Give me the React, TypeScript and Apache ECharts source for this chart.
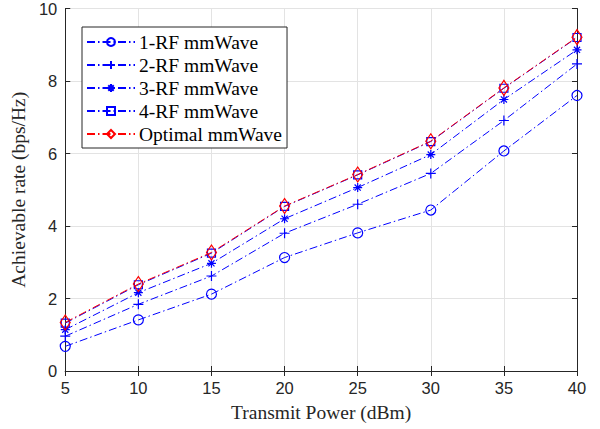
import React, { useEffect, useRef } from "react";
import * as echarts from "echarts";

const powers = [5, 10, 15, 20, 25, 30, 35, 40];
const rf1 = [0.68, 1.41, 2.12, 3.13, 3.81, 4.44, 6.07, 7.6];
const rf2 = [0.96, 1.84, 2.62, 3.8, 4.6, 5.45, 6.91, 8.47];
const rf3 = [1.14, 2.16, 2.97, 4.2, 5.06, 5.97, 7.49, 8.86];
const rf4 = [1.32, 2.38, 3.25, 4.54, 5.41, 6.33, 7.8, 9.2];
const optimal = [1.34, 2.4, 3.27, 4.55, 5.42, 6.34, 7.81, 9.21];
const names = ["1-RF mmWave", "2-RF mmWave", "3-RF mmWave", "4-RF mmWave", "Optimal mmWave"];
const xTicks = [5, 10, 15, 20, 25, 30, 35, 40];
const yTicks = [0, 2, 4, 6, 8, 10];

const BLUE = "#0000ff";
const RED = "#ff0000";
const AX = "#262626";
const SERIF = "Liberation Serif";
const SANS = "Liberation Sans";

export default function App() {
  const ref = useRef<HTMLDivElement>(null);
  useEffect(() => {
    const chart = echarts.init(ref.current!, null, { renderer: "svg" });
    const pair = (ys: number[]) => powers.map((x, i) => [x, ys[i]]);
    const mk = (name: string, ys: number[], color: string, symbol: string, size: any) => ({
      name,
      type: "line",
      data: pair(ys),
      symbol,
      symbolSize: size,
      showAllSymbol: true,
      lineStyle: { color, width: 1, type: [8, 3, 1.5, 3] },
      itemStyle: { color: "none", borderColor: color, borderWidth: 1.2 },
      emphasis: { disabled: true },
      z: 3,
    });
    const axisCommon = {
      axisLine: { show: true, lineStyle: { color: AX, width: 1 } },
      axisTick: { show: true, inside: true, length: 5, lineStyle: { color: AX } },
    };
    chart.setOption({
      animation: false,
      grid: { left: 63, right: 23, top: 7, bottom: 58 },
      legend: {
        left: 82,
        top: 27,
        orient: "vertical",
        data: names,
        backgroundColor: "#fff",
        borderColor: AX,
        borderWidth: 1,
        padding: [5, 5, 4, 4],
        itemWidth: 48,
        itemHeight: 10,
        itemGap: 3,
        textStyle: { fontFamily: SERIF, fontSize: 19.5, color: "#000", padding: [0, 0, 0, -1] },
        selectedMode: false,
      },
      xAxis: [
        {
          type: "value",
          min: 5,
          max: 40,
          interval: 5,
          name: "Transmit Power (dBm)",
          nameLocation: "middle",
          nameGap: 31,
          nameTextStyle: { fontFamily: SERIF, fontSize: 19.5, color: AX },
          axisLabel: { fontFamily: SANS, fontSize: 16.5, color: AX, margin: 8,
            formatter: (v: number) => (xTicks.includes(v) ? String(v) : "") },
          splitLine: { show: true, lineStyle: { color: "#e3e3e3", width: 1 } },
          ...axisCommon,
        },
        {
          type: "value",
          position: "top",
          min: 5,
          max: 40,
          interval: 5,
          axisLabel: { show: false },
          splitLine: { show: false },
          ...axisCommon,
        },
      ],
      yAxis: [
        {
          type: "value",
          min: 0,
          max: 10,
          interval: 2,
          name: "Achievable rate (bps/Hz)",
          nameLocation: "middle",
          nameGap: 27,
          nameTextStyle: { fontFamily: SERIF, fontSize: 19.5, color: AX },
          axisLabel: { fontFamily: SANS, fontSize: 16.5, color: AX, margin: 8,
            formatter: (v: number) => (yTicks.includes(v) ? String(v) : "") },
          splitLine: { show: true, lineStyle: { color: "#e3e3e3", width: 1 } },
          ...axisCommon,
        },
        {
          type: "value",
          position: "right",
          min: 0,
          max: 10,
          interval: 2,
          axisLabel: { show: false },
          splitLine: { show: false },
          ...axisCommon,
        },
      ],
      series: [
        mk(names[0], rf1, BLUE, "circle", 10),
        mk(names[1], rf2, BLUE, "path://M0,5L10,5M5,0L5,10", 10),
        mk(names[2], rf3, BLUE, "path://M5,0L5,10M0,5L10,5M1.6,1.6L8.4,8.4M1.6,8.4L8.4,1.6", 9),
        mk(names[3], rf4, BLUE, "rect", 8),
        mk(names[4], optimal, RED, "diamond", [10, 15]),
      ],
    });
    return () => chart.dispose();
  }, []);
  return (
    <div
      ref={ref}
      style={{ position: "absolute", left: 0, top: 0, width: 600, height: 429, background: "#fff" }}
    />
  );
}
